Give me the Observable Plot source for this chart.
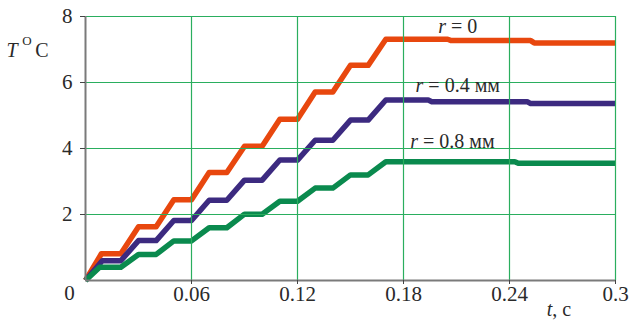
<!DOCTYPE html>
<html>
<head>
<meta charset="utf-8">
<script src="https://cdn.jsdelivr.net/npm/d3@7"></script>
<script src="https://cdn.jsdelivr.net/npm/@observablehq/plot@0.6"></script>
<style>
  html, body { margin: 0; padding: 0; background: #fff; }
  svg { display: block; }
  svg text { font-family: "Liberation Serif", "Times New Roman", "DejaVu Serif", serif !important; }
</style>
</head>
<body>
<div id="chart"></div>
<script>
// Temperature rise T (°C) vs time t (s) at three radial distances r
const seriesNames = ["r = 0", "r = 0.4 мм", "r = 0.8 мм"];
const seriesColors = ["#e8470e", "#3c2a80", "#0a8a4e"];

const tR0 = [0, 0.009, 0.02, 0.03, 0.04, 0.05, 0.06, 0.07, 0.08, 0.09, 0.10, 0.11, 0.12, 0.13, 0.14, 0.15, 0.16, 0.17, 0.205, 0.207, 0.252, 0.254, 0.3];
const TR0 = [0, 0.81, 0.81, 1.63, 1.63, 2.45, 2.45, 3.27, 3.27, 4.07, 4.07, 4.89, 4.89, 5.71, 5.71, 6.52, 6.52, 7.31, 7.31, 7.27, 7.27, 7.20, 7.20];

const tR04 = [0, 0.0095, 0.02, 0.03, 0.04, 0.05, 0.06, 0.07, 0.08, 0.09, 0.10, 0.11, 0.12, 0.13, 0.14, 0.15, 0.16, 0.17, 0.194, 0.196, 0.25, 0.252, 0.3];
const TR04 = [0, 0.60, 0.60, 1.21, 1.21, 1.82, 1.82, 2.43, 2.43, 3.04, 3.04, 3.65, 3.65, 4.25, 4.25, 4.86, 4.86, 5.47, 5.47, 5.42, 5.42, 5.36, 5.36];

const tR08 = [0, 0.008, 0.02, 0.03, 0.04, 0.05, 0.06, 0.07, 0.08, 0.09, 0.10, 0.11, 0.12, 0.13, 0.14, 0.15, 0.16, 0.17, 0.243, 0.245, 0.3];
const TR08 = [0, 0.40, 0.40, 0.79, 0.79, 1.20, 1.20, 1.60, 1.60, 2.01, 2.01, 2.40, 2.40, 2.80, 2.80, 3.20, 3.20, 3.60, 3.60, 3.55, 3.55];

const xTicks = [0.06, 0.12, 0.18, 0.24, 0.3];
const yTicks = [2, 4, 6, 8];

// curve label anchors (centre t, baseline T)
const labelT = [0.211, 0.211, 0.208];
const labelTemp = [7.48, 5.70, 4.0];

const times = [tR0, tR04, tR08];
const temps = [TR0, TR04, TR08];
const rows = seriesNames.flatMap((name, k) =>
  times[k].map((t, i) => ({ t, T: temps[k][i], series: name }))
);

const textColor = "#2a2a2a";
const gridColor = "#2aae5e";

const chart = Plot.plot({
  width: 644,
  height: 320,
  marginLeft: 85,
  marginRight: 29,
  marginTop: 16,
  marginBottom: 40,
  style: { fontSize: "21px", color: textColor, background: "#fff" },
  x: { domain: [0, 0.3], label: null },
  y: { domain: [0, 8], label: null },
  color: { domain: seriesNames, range: seriesColors },
  marks: [
    Plot.line(rows, {
      x: "t", y: "T", z: "series", stroke: "series",
      strokeWidth: 5.5, strokeLinejoin: "round", strokeLinecap: "butt"
    }),
    Plot.gridX(xTicks, { stroke: gridColor, strokeOpacity: 1, strokeWidth: 1.2 }),
    Plot.gridY(yTicks, { stroke: gridColor, strokeOpacity: 1, strokeWidth: 1.2 }),
    Plot.ruleX([0], { stroke: "#7a7a7a", strokeWidth: 2 }),
    Plot.ruleY([0], { stroke: "#7a7a7a", strokeWidth: 2 }),
    Plot.axisX(xTicks, {
      label: null, tickSize: 4, tickPadding: 2, stroke: "#444",
      tickFormat: (d) => String(d), fontSize: 21, fill: textColor
    }),
    Plot.axisY(yTicks, {
      label: null, tickSize: 5, tickPadding: 8, stroke: "#444",
      tickFormat: (d) => String(d), fontSize: 21, fill: textColor
    }),
    // shared origin label
    Plot.text([{ t: 0, T: 0 }], {
      x: "t", y: "T", text: () => "0", dx: -16, dy: 13,
      fontSize: 21, fill: textColor
    })
  ]
});

const svg = d3.select(chart);
const sx = chart.scale("x");
const sy = chart.scale("y");

// axis titles
const yTitle = svg.append("text")
  .attr("font-size", 20).attr("fill", textColor);
yTitle.append("tspan").attr("x", 12).attr("y", 57).attr("font-style", "italic").text("T");
yTitle.append("tspan").attr("x", 27).attr("y", 45).attr("font-size", 13).text("O");
yTitle.append("tspan").attr("x", 42).attr("y", 57).text("C");

const xTitle = svg.append("text")
  .attr("x", 559).attr("y", 316)
  .attr("font-size", 20).attr("fill", textColor);
xTitle.append("tspan").attr("font-style", "italic").text("t");
xTitle.append("tspan").text(", c");

// curve labels
seriesNames.forEach((name, k) => {
  const lab = svg.append("text")
    .attr("x", sx.apply(labelT[k]))
    .attr("y", sy.apply(labelTemp[k]))
    .attr("text-anchor", "middle")
    .attr("font-size", 20).attr("fill", textColor);
  lab.append("tspan").attr("font-style", "italic").text("r");
  lab.append("tspan").text(name.slice(1));
});

document.getElementById("chart").appendChild(chart);
</script>
</body>
</html>
